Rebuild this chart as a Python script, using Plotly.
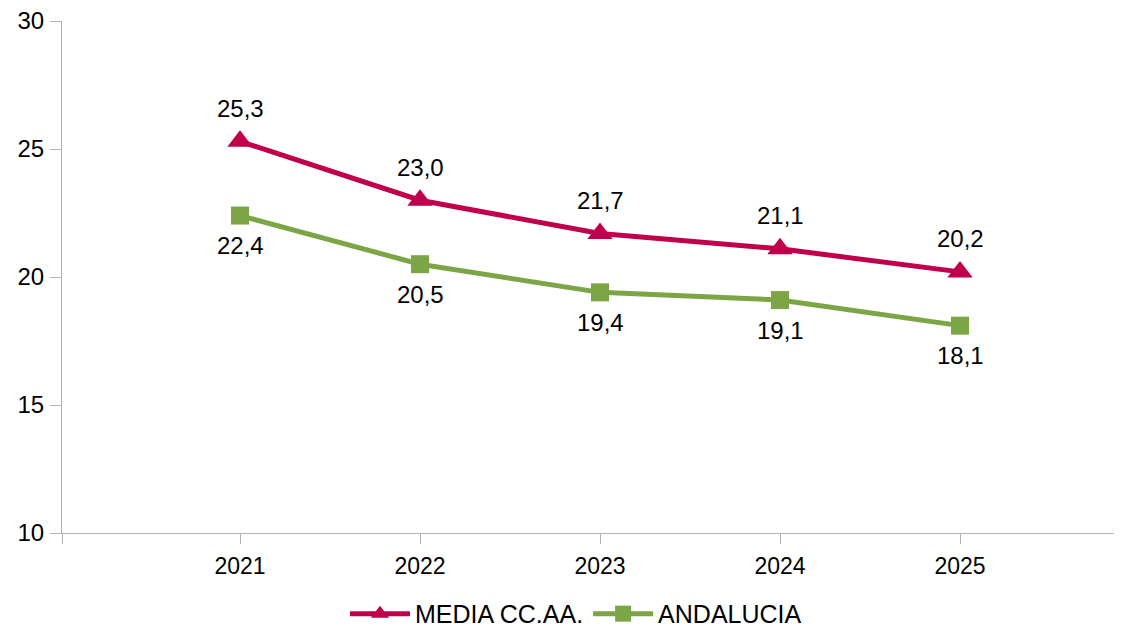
import plotly.graph_objects as go

years = [2021, 2022, 2023, 2024, 2025]
year_labels = ["2021", "2022", "2023", "2024", "2025"]
media = [25.3, 23.0, 21.7, 21.1, 20.2]
andalucia = [22.4, 20.5, 19.4, 19.1, 18.1]
y_ticks = [10, 15, 20, 25, 30]

RED = "#C0004C"
GREEN = "#7CA545"
AXIS = "#B3B3B3"
FONT = "Liberation Sans, Arial, sans-serif"

def fmt(v):
    return f"{v:.1f}".replace(".", ",")

fig = go.Figure()
fig.add_trace(go.Scatter(
    x=years, y=media, name="MEDIA CC.AA.", mode="lines+markers",
    line=dict(color=RED, width=5),
    marker=dict(symbol="triangle-up", size=22, color=RED),
))
fig.add_trace(go.Scatter(
    x=years, y=andalucia, name="ANDALUCIA", mode="lines+markers",
    line=dict(color=GREEN, width=5),
    marker=dict(symbol="square", size=18, color=GREEN),
))

annotations = []
for x, v in zip(years, media):
    annotations.append(dict(x=x, y=v, text=fmt(v), showarrow=False, yshift=33,
                            font=dict(size=24, color="black", family=FONT)))
for x, v in zip(years, andalucia):
    annotations.append(dict(x=x, y=v, text=fmt(v), showarrow=False, yshift=-30,
                            font=dict(size=24, color="black", family=FONT)))

x_left = years[0] - 178 / 180
x_right = x_left + 1052 / 180

fig.update_layout(
    width=1106, height=624,
    margin=dict(l=54, r=0, t=13, b=99, autoexpand=False),
    paper_bgcolor="white", plot_bgcolor="white",
    font=dict(family=FONT, size=22, color="black"),
    showlegend=True,
    legend=dict(orientation="h", x=0.4886, xanchor="center", y=-0.158, yanchor="middle",
                font=dict(size=25, color="black", family=FONT), itemwidth=60,
                bgcolor="rgba(0,0,0,0)"),
    annotations=annotations,
    xaxis=dict(
        range=[x_left, x_right],
        tickvals=[x_left] + years, ticktext=[""] + year_labels,
        showgrid=False, zeroline=False,
        showline=True, linecolor=AXIS, linewidth=1,
        ticks="outside", ticklen=10, tickcolor=AXIS, tickwidth=1,
        ticklabelstandoff=2,
        tickfont=dict(size=23, color="black", family=FONT),
    ),
    yaxis=dict(
        range=[10, 30], tickvals=y_ticks,
        showgrid=False, zeroline=False,
        showline=True, linecolor=AXIS, linewidth=1,
        ticks="outside", ticklen=11, tickcolor=AXIS, tickwidth=1,
        ticklabelstandoff=1, ticklabeloverflow="allow",
        tickfont=dict(size=24, color="black", family=FONT),
    ),
)

fig.write_html("out.html")
